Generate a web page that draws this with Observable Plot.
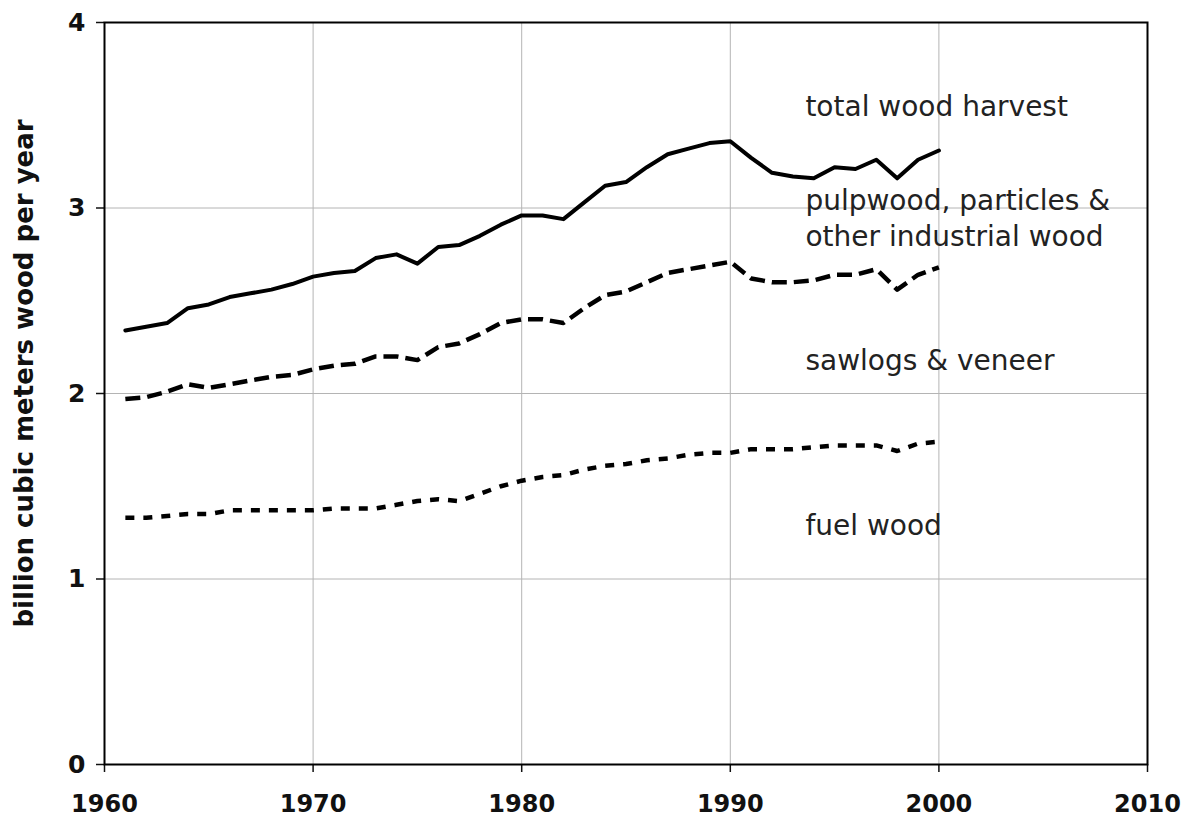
<!DOCTYPE html>
<html>
<head>
<meta charset="utf-8">
<script src="https://cdn.jsdelivr.net/npm/d3@7"></script>
<script src="https://cdn.jsdelivr.net/npm/@observablehq/plot@0.6"></script>
<style>
  html, body { margin: 0; padding: 0; background: #fff; }
  #chart svg { display: block; }
</style>
</head>
<body>
<div id="chart"></div>
<script>
// ---- data ----
const years = [1961,1962,1963,1964,1965,1966,1967,1968,1969,1970,
               1971,1972,1973,1974,1975,1976,1977,1978,1979,1980,
               1981,1982,1983,1984,1985,1986,1987,1988,1989,1990,
               1991,1992,1993,1994,1995,1996,1997,1998,1999,2000];

// total wood harvest (top, solid)
const totalHarvest = [2.34,2.36,2.38,2.46,2.48,2.52,2.54,2.56,2.59,2.63,
                      2.65,2.66,2.73,2.75,2.70,2.79,2.80,2.85,2.91,2.96,
                      2.96,2.94,3.03,3.12,3.14,3.22,3.29,3.32,3.35,3.36,
                      3.27,3.19,3.17,3.16,3.22,3.21,3.26,3.16,3.26,3.31];

// fuel wood + sawlogs & veneer (middle, dashed)
const fuelPlusSawlogs = [1.97,1.98,2.01,2.05,2.03,2.05,2.07,2.09,2.10,2.13,
                         2.15,2.16,2.20,2.20,2.18,2.25,2.27,2.32,2.38,2.40,
                         2.40,2.38,2.46,2.53,2.55,2.60,2.65,2.67,2.69,2.71,
                         2.62,2.60,2.60,2.61,2.64,2.64,2.67,2.56,2.64,2.68];

// fuel wood (bottom, short dashes)
const fuelWood = [1.33,1.33,1.34,1.35,1.35,1.37,1.37,1.37,1.37,1.37,
                  1.38,1.38,1.38,1.40,1.42,1.43,1.42,1.46,1.50,1.53,
                  1.55,1.56,1.59,1.61,1.62,1.64,1.65,1.67,1.68,1.68,
                  1.70,1.70,1.70,1.71,1.72,1.72,1.72,1.69,1.73,1.74];

const xTicks = [1960,1970,1980,1990,2000,2010];
const yTicks = [0,1,2,3,4];
const yTitle = "billion cubic meters wood per year";
const bandLabels = ["total wood harvest",
                    "pulpwood, particles &\nother industrial wood",
                    "sawlogs & veneer",
                    "fuel wood"];

// ---- build tables ----
const toRows = vals => years.map((year, i) => ({year, value: vals[i]}));
const totalRows = toRows(totalHarvest);
const midRows = toRows(fuelPlusSawlogs);
const fuelRows = toRows(fuelWood);

// annotation anchors (chart coordinates)
const labelAnchors = [
  {x: 1993.6, y: 3.56},
  {x: 1993.6, y: 2.955},
  {x: 1993.6, y: 2.19},
  {x: 1993.6, y: 1.30}
];
const labelRows = bandLabels.map((text, i) => ({text, ...labelAnchors[i]}));

const chart = Plot.plot({
  width: 1184,
  height: 827,
  marginLeft: 104,
  marginRight: 37,
  marginTop: 22,
  marginBottom: 63,
  style: {fontFamily: "DejaVu Sans", background: "#fff", color: "#111"},
  x: {domain: [1960, 2010]},
  y: {domain: [0, 4]},
  marks: [
    Plot.gridX(xTicks.slice(1, -1), {stroke: "#b4b4b4", strokeOpacity: 1, strokeWidth: 1}),
    Plot.gridY(yTicks.slice(1, -1), {stroke: "#b4b4b4", strokeOpacity: 1, strokeWidth: 1}),
    Plot.axisX({ticks: xTicks, tickFormat: d => String(d), tickSize: 8, tickPadding: 22,
                fontSize: 24, fontWeight: "bold", label: null, strokeWidth: 1.5, fill: "#111"}),
    Plot.axisY({ticks: yTicks, tickFormat: d => String(d), tickSize: 8, tickPadding: 11,
                fontSize: 25, fontWeight: "bold", label: null, strokeWidth: 1.5, fill: "#111"}),
    Plot.frame({stroke: "#000", strokeWidth: 2}),
    Plot.line(fuelRows, {x: "year", y: "value", stroke: "#000", strokeWidth: 4.5,
                         strokeDasharray: "9,9", strokeLinecap: "butt"}),
    Plot.line(midRows, {x: "year", y: "value", stroke: "#000", strokeWidth: 4.5,
                        strokeDasharray: "15,7", strokeLinecap: "butt"}),
    Plot.line(totalRows, {x: "year", y: "value", stroke: "#000", strokeWidth: 4}),
    Plot.text(labelRows, {x: "x", y: "y", text: "text", textAnchor: "start", lineAnchor: "middle",
                          fontSize: 28, lineHeight: 1.29, fill: "#222"}),
    Plot.text([yTitle], {frameAnchor: "left", textAnchor: "middle", lineAnchor: "middle",
                         rotate: -90, dx: -80, dy: -20,
                         fontSize: 26, fontWeight: "bold", fill: "#111"})
  ]
});
document.getElementById("chart").appendChild(chart);
</script>
</body>
</html>
